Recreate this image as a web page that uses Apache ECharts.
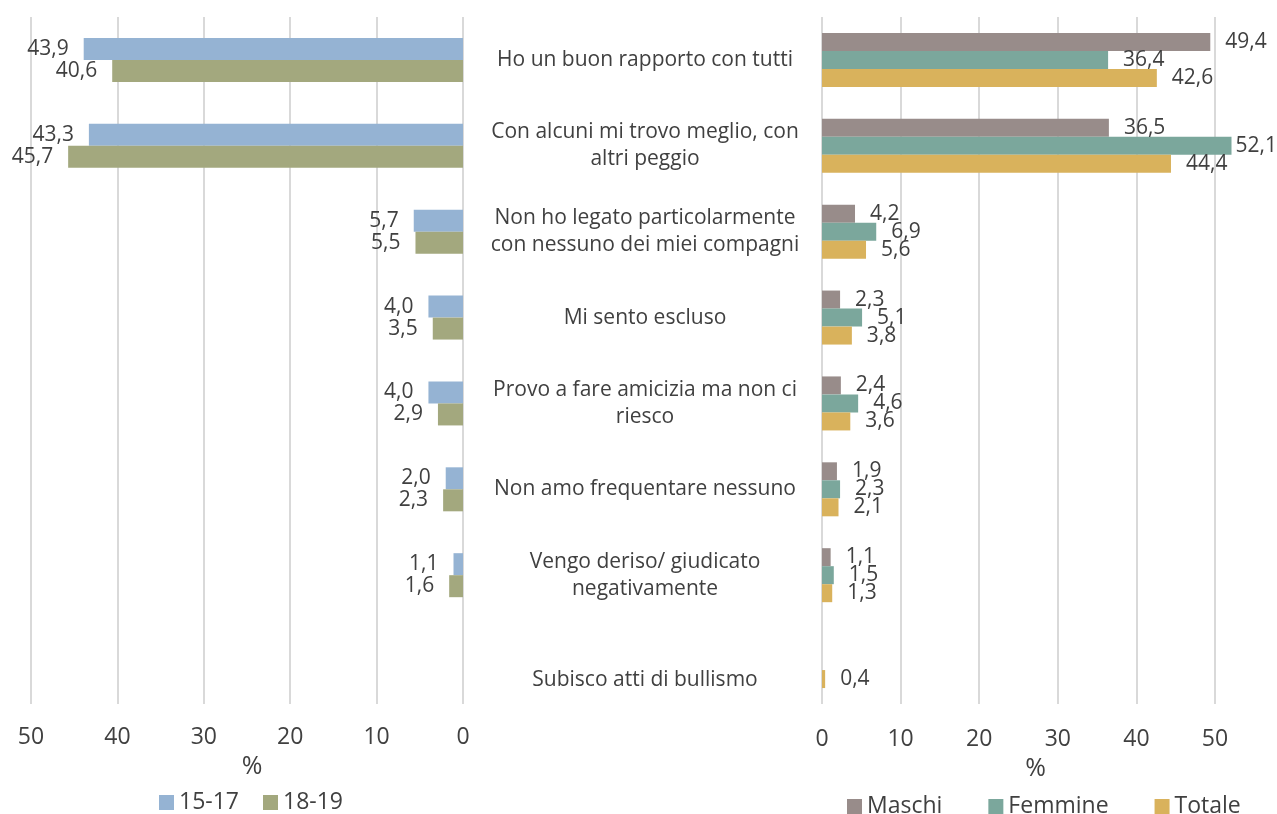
<!DOCTYPE html>
<html><head><meta charset="utf-8">
<script src="https://cdn.jsdelivr.net/npm/echarts@6/dist/echarts.min.js"></script>
<style>html,body{margin:0;padding:0;background:#fff}#c{width:1277px;height:814px}</style>
</head><body><div id="c"></div>
<script>
const categories = [
  "Ho un buon rapporto con tutti",
  "Con alcuni mi trovo meglio, con\naltri peggio",
  "Non ho legato particolarmente\ncon nessuno dei miei compagni",
  "Mi sento escluso",
  "Provo a fare amicizia ma non ci\nriesco",
  "Non amo frequentare nessuno",
  "Vengo deriso/ giudicato\nnegativamente",
  "Subisco atti di bullismo"
];
const age1517 = [43.9, 43.3, 5.7, 4.0, 4.0, 2.0, 1.1, null];
const age1819 = [40.6, 45.7, 5.5, 3.5, 2.9, 2.3, 1.6, null];
const maschi  = [49.4, 36.5, 4.2, 2.3, 2.4, 1.9, 1.1, null];
const femmine = [36.4, 52.1, 6.9, 5.1, 4.6, 2.3, 1.5, null];
const totale  = [42.6, 44.4, 5.6, 3.8, 3.6, 2.1, 1.3, 0.4];
const xTicksMax = 50;

const FONT = '"Open Sans", "Noto Sans", sans-serif';
const TXT = '#404040';
const GRIDC = '#D9D9D9';
const fmt = p => p.value == null ? '' : Number(p.value).toFixed(1).replace('.', ',');

const chart = echarts.init(document.getElementById('c'));
const valueAxis = (idx, inverse, padLeft, margin) => ({
  type: 'value', gridIndex: idx, min: 0, max: xTicksMax, interval: 10, inverse: inverse,
  name: '%', nameLocation: 'middle', nameGap: 44,
  nameTextStyle: {color: TXT, fontSize: 25, fontFamily: FONT, padding: [0, 0, 0, padLeft]},
  axisLine: {show: false}, axisTick: {show: false},
  axisLabel: {color: TXT, fontSize: 23, fontFamily: FONT, margin: margin},
  splitLine: {show: true, lineStyle: {color: GRIDC, width: 2}}
});
const barSeries = (name, values, xi, yi, color, width, pos) => ({
  name, type: 'bar', xAxisIndex: xi, yAxisIndex: yi, barWidth: width, barGap: '0%',
  clip: false,
  data: values.map(v => (v != null && v > xTicksMax) ? {value: v, label: {distance: 4}} : v),
  itemStyle: {color},
  label: {show: true, position: pos, distance: 15, formatter: fmt, color: TXT, fontSize: 21, fontFamily: FONT}
});

chart.setOption({
  backgroundColor: '#ffffff',
  animation: false,
  grid: [
    {left: 31, width: 432, top: 17, height: 687},
    {left: 822, width: 393, top: 17, height: 687}
  ],
  xAxis: [valueAxis(0, true, 10, 22), valueAxis(1, false, 34, 24)],
  yAxis: [
    {type: 'category', gridIndex: 0, data: categories, inverse: true,
     axisLine: {show: false}, axisTick: {show: false}, axisLabel: {show: false}},
    {type: 'category', gridIndex: 1, data: categories, inverse: true,
     axisLine: {show: false}, axisTick: {show: false},
     axisLabel: {show: true, align: 'center', margin: 177, color: TXT, fontSize: 21, fontFamily: FONT, lineHeight: 27,
       formatter: (v, i) => i === categories.length - 1 ? '{low|' + v + '}' : v,
       rich: {low: {padding: [38, 0, 0, 0], color: TXT, fontSize: 21, fontFamily: FONT}}}}
  ],
  legend: [
    {data: ['15-17', '18-19'], left: 154, top: 786, itemWidth: 15, itemHeight: 15, itemGap: 24,
     icon: 'rect', textStyle: {color: TXT, fontSize: 23, fontFamily: FONT}},
    {data: ['Maschi', 'Femmine', 'Totale'], left: 842, top: 790, itemWidth: 15, itemHeight: 15, itemGap: 46,
     icon: 'rect', textStyle: {color: TXT, fontSize: 23, fontFamily: FONT}}
  ],
  series: [
    barSeries('15-17', age1517, 0, 0, '#95B3D3', 22, 'left'),
    barSeries('18-19', age1819, 0, 0, '#A3A87E', 22, 'left'),
    barSeries('Maschi', maschi, 1, 1, '#988C8A', 18, 'right'),
    barSeries('Femmine', femmine, 1, 1, '#7BA79C', 18, 'right'),
    barSeries('Totale', totale, 1, 1, '#D9B25C', 18, 'right')
  ]
});
</script></body></html>
